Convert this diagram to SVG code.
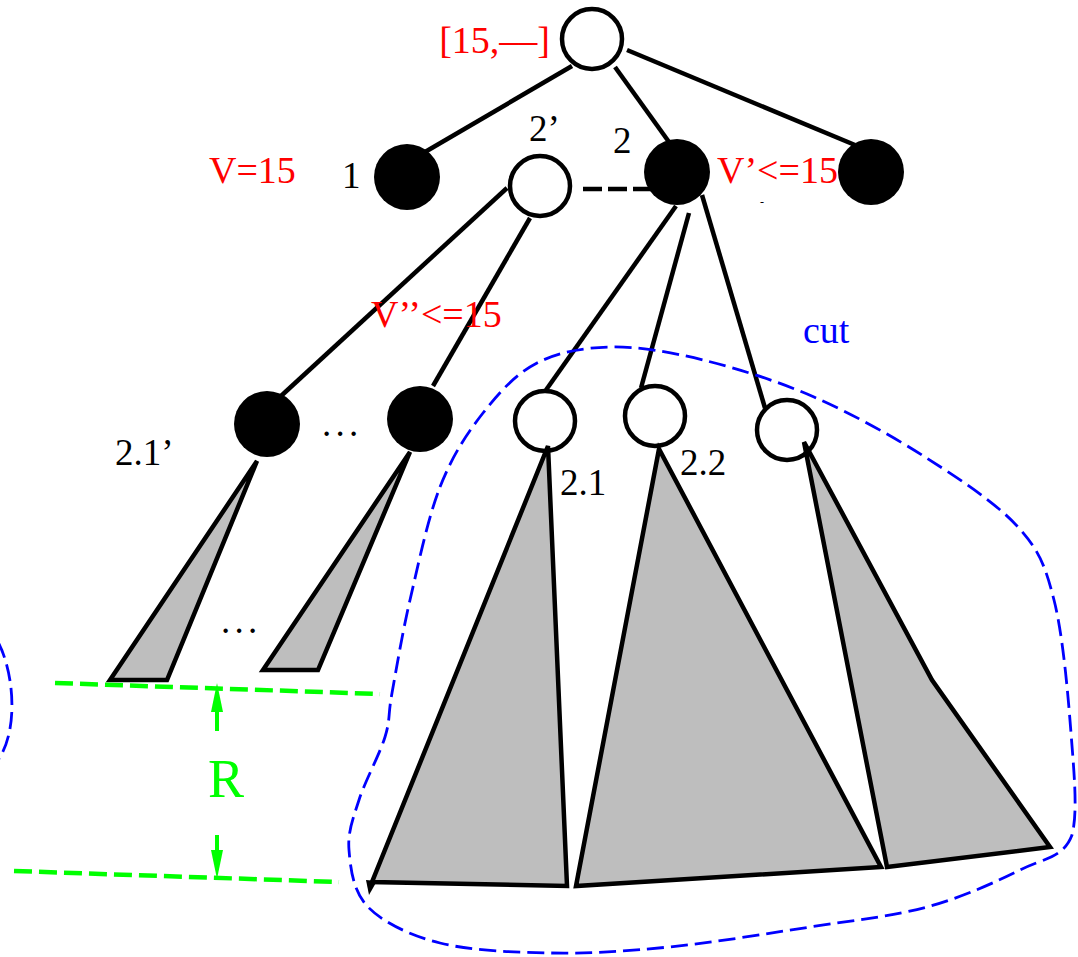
<svg xmlns="http://www.w3.org/2000/svg" width="1078" height="957" viewBox="0 0 1078 957">
<style>
.edge{stroke:#000;stroke-width:4.5;fill:none;stroke-linecap:butt}
.wn{fill:#fff;stroke:#000;stroke-width:4.5}
.bn{fill:#000;stroke:none}
.tri{fill:#bebebe;stroke:#000;stroke-width:4.5;stroke-linejoin:miter}
.lbl{font-family:"Liberation Serif","Times New Roman",serif;font-size:37px;fill:#000}
.red{fill:#ff0000;font-size:38px}
.blue{fill:#0000ff;font-size:38px}
.green{fill:#00ff00;font-size:54px}
.cut{fill:none;stroke:#0000ff;stroke-width:2.8;stroke-dasharray:17 7}
.gl{fill:none;stroke:#00ff00;stroke-width:4.5;stroke-dasharray:18 7}
.ga{stroke:#00ff00;stroke-width:4;fill:none}
.gh{fill:#00ff00;stroke:none}
</style>
<g id="connectors">
<line class="edge" x1="572" y1="66" x2="425" y2="152"/>
<line class="edge" x1="615" y1="67" x2="669" y2="142"/>
<line class="edge" x1="627" y1="50" x2="855" y2="145"/>
<line class="edge" x1="507" y1="188" x2="281" y2="396"/>
<line class="edge" x1="530" y1="218" x2="433" y2="386"/>
<line class="edge" x1="676" y1="206" x2="546" y2="390"/>
<line class="edge" x1="689" y1="213" x2="641" y2="388"/>
<line class="edge" x1="702" y1="195" x2="765" y2="408"/>
<line class="edge" x1="583" y1="189" x2="652" y2="189" stroke-dasharray="19 6"/>
</g>
<g id="cut-region">
<path class="cut" d="M440,487 C452.2,455.8 466.8,433.7 483,413 C499.2,392.3 515.7,374 537,363 C558.3,352 583.3,347.5 611,347 C638.7,346.5 669.2,351.7 703,360 C736.8,368.3 777,380.8 814,397 C851,413.2 891,435.3 925,457 C959,478.7 996.5,503.2 1018,527 C1039.5,550.8 1045.2,565.7 1054,600 C1062.8,634.3 1068,693.8 1071,733 C1074,772.2 1078,812.2 1072,835 C1063.5,857.8 1044.2,858 1020,870 C995.8,882 962,897.5 927,907 C892,916.5 853,920.3 810,927 C767,933.7 712.2,942.7 669,947 C625.8,951.3 589.2,953.7 551,953 C512.8,952.3 470.5,950.7 440,943 C409.5,935.3 383.2,922.5 368,907 C352.8,891.5 350.5,867.8 349,850 C347.5,832.2 353,818.8 359,800 C365,781.2 379.5,754.8 385,737 C390.5,719.2 387.8,715.8 392,693 C396.2,670.2 402,634.3 410,600 C418,565.7 427.8,518.2 440,487 Z"/>
<path class="cut" d="M-2,642 C14,672 19,730 -2,760"/>
<text class="lbl blue" x="803" y="343">cut</text>
</g>
<g id="node-root">
<circle class="wn" cx="592" cy="39" r="30"/>
<text class="lbl red" x="550" y="53" text-anchor="end">[15,––]</text>
</g>
<g id="node-1">
<circle class="bn" cx="407" cy="177" r="33"/>
<text class="lbl" x="342" y="188">1</text>
<text class="lbl red" x="209" y="183">V=15</text>
</g>
<g id="node-2p">
<circle class="wn" cx="540" cy="186" r="30"/>
<text class="lbl" x="529" y="141">2’</text>
</g>
<g id="node-2">
<text class="lbl red" x="717" y="183">V’&lt;=15</text>
<circle class="bn" cx="677" cy="172" r="33"/>
<text class="lbl" x="613" y="153">2</text>
<text class="lbl" x="760" y="206" style="font-size:12px">-</text>
</g>
<g id="node-3">
<circle class="bn" cx="871" cy="172" r="33"/>
</g>
<g id="node-21p">
<circle class="bn" cx="267" cy="424" r="33"/>
<polygon class="tri" points="257,461 110,680 167,680"/>
<text class="lbl" x="115" y="465">2.1’</text>
</g>
<g id="node-2np">
<circle class="bn" cx="420" cy="419" r="33"/>
<polygon class="tri" points="410,452 263,670 318,670"/>
<text class="lbl" x="322" y="435.5" style="letter-spacing:4.3px">...</text>
<text class="lbl" x="221" y="632.5" style="letter-spacing:4.3px">...</text>
<text class="lbl red" x="371" y="327">V’’&lt;=15</text>
</g>
<g id="node-21">
<circle class="wn" cx="545" cy="421" r="30"/>
<polygon class="tri" points="548,446 372,882 567,886"/>
<polygon points="366,880 377,881 369,895" fill="#000"/>
<text class="lbl" x="560" y="495">2.1</text>
</g>
<g id="node-22">
<circle class="wn" cx="655" cy="416" r="30"/>
<polygon class="tri" points="659,449 576,886 881,867"/>
<text class="lbl" x="680" y="475">2.2</text>
</g>
<g id="node-23">
<circle class="wn" cx="787" cy="430" r="30"/>
<polygon class="tri" points="804,442 932,680 1050,847 887,867"/>
</g>
<g id="radius">
<line class="gl" x1="55" y1="683" x2="380" y2="694"/>
<line class="gl" x1="14" y1="871" x2="339" y2="882"/>
<line class="ga" x1="217" y1="731" x2="217" y2="705"/>
<polygon class="gh" points="217,683 223,712 211,712"/>
<line class="ga" x1="217" y1="835" x2="217" y2="858"/>
<polygon class="gh" points="217,879 223,850 211,850"/>
<text class="lbl green" x="208" y="797">R</text>
</g>
</svg>
